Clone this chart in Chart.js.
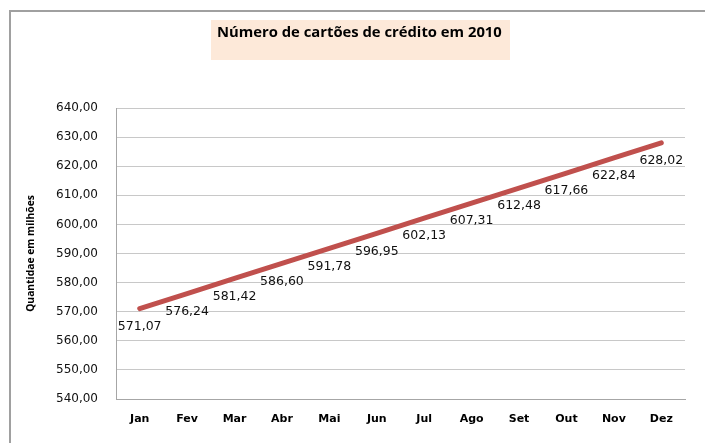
<!DOCTYPE html>
<html>
<head>
<meta charset="utf-8">
<script src="https://cdn.jsdelivr.net/npm/chart.js@4.4.0/dist/chart.umd.min.js"></script>
<style>
  html, body { margin: 0; padding: 0; background: #fff; }
  #wrap { width: 705px; height: 443px; position: relative; }
</style>
</head>
<body>
<div id="wrap"><canvas id="chart" width="705" height="443"></canvas></div>
<script>
// dados
const meses = ["Jan", "Fev", "Mar", "Abr", "Mai", "Jun", "Jul", "Ago", "Set", "Out", "Nov", "Dez"];
const cartoes = [571.07, 576.24, 581.42, 586.60, 591.78, 596.95, 602.13, 607.31, 612.48, 617.66, 622.84, 628.02];
const yTicks = [540, 550, 560, 570, 580, 590, 600, 610, 620, 630, 640];
const titulo = "Número de cartões de crédito em 2010";
const tituloEixoY = "Quantidae em milhões";

const fmt = v => v.toFixed(2).replace(".", ",");

// moldura + caixa do título
const moldura = {
  id: "moldura",
  beforeDraw(chart) {
    const ctx = chart.ctx;
    ctx.save();
    ctx.fillStyle = "#fff";
    ctx.fillRect(0, 0, chart.width, chart.height);
    ctx.strokeStyle = "#a0a0a0";
    ctx.lineWidth = 2;
    ctx.strokeRect(10, 11, chart.width + 20, chart.height + 20);
    ctx.fillStyle = "#fde9d9";
    ctx.fillRect(211, 20, 299, 40);
    ctx.fillStyle = "#000";
    ctx.font = "bold 14.8px 'Open Sans'";
    ctx.textBaseline = "middle";
    ctx.textAlign = "left";
    ctx.fillText(titulo, 217, 33);
    ctx.restore();
  }
};

// rótulos de dados abaixo de cada ponto
const rotulos = {
  id: "rotulos",
  afterDatasetsDraw(chart) {
    const ctx = chart.ctx;
    const meta = chart.getDatasetMeta(0);
    ctx.save();
    ctx.font = "12.5px 'DejaVu Sans'";
    ctx.fillStyle = "#111";
    ctx.textAlign = "center";
    ctx.textBaseline = "middle";
    meta.data.forEach((pt, i) => {
      ctx.fillText(fmt(cartoes[i]), pt.x, pt.y + 18);
    });
    ctx.restore();
  }
};

new Chart(document.getElementById("chart"), {
  type: "line",
  data: {
    labels: meses,
    datasets: [{
      data: cartoes,
      borderColor: "#c0504d",
      borderWidth: 5,
      borderCapStyle: "round",
      pointRadius: 0,
      tension: 0
    }]
  },
  options: {
    responsive: false,
    animation: false,
    layout: { padding: { top: 108, right: 20, bottom: 0, left: 0 } },
    plugins: {
      legend: { display: false },
      tooltip: { enabled: false }
    },
    scales: {
      x: {
        offset: true,
        grid: { display: false, drawTicks: false },
        border: { display: true, color: "#a6a6a6", width: 1 },
        ticks: {
          color: "#000",
          font: { family: "DejaVu Sans", size: 11, weight: "bold" },
          padding: 14,
          maxRotation: 0
        },
        afterFit: s => { s.height = 44; }
      },
      y: {
        min: yTicks[0],
        max: yTicks[yTicks.length - 1],
        afterBuildTicks: s => { s.ticks = yTicks.map(v => ({ value: v })); },
        grid: { color: "#c8c8c8", drawTicks: false },
        border: { display: true, color: "#a6a6a6", width: 1 },
        ticks: {
          color: "#111",
          font: { family: "DejaVu Sans", size: 12 },
          padding: 18,
          callback: v => fmt(v)
        },
        title: {
          display: true,
          text: tituloEixoY,
          color: "#000",
          font: { family: "Open Sans", size: 10.3, weight: "bold" },
          padding: { top: 25, bottom: 0 }
        },
        afterFit: s => { s.width = 116; }
      }
    }
  },
  plugins: [moldura, rotulos]
});
</script>
</body>
</html>
